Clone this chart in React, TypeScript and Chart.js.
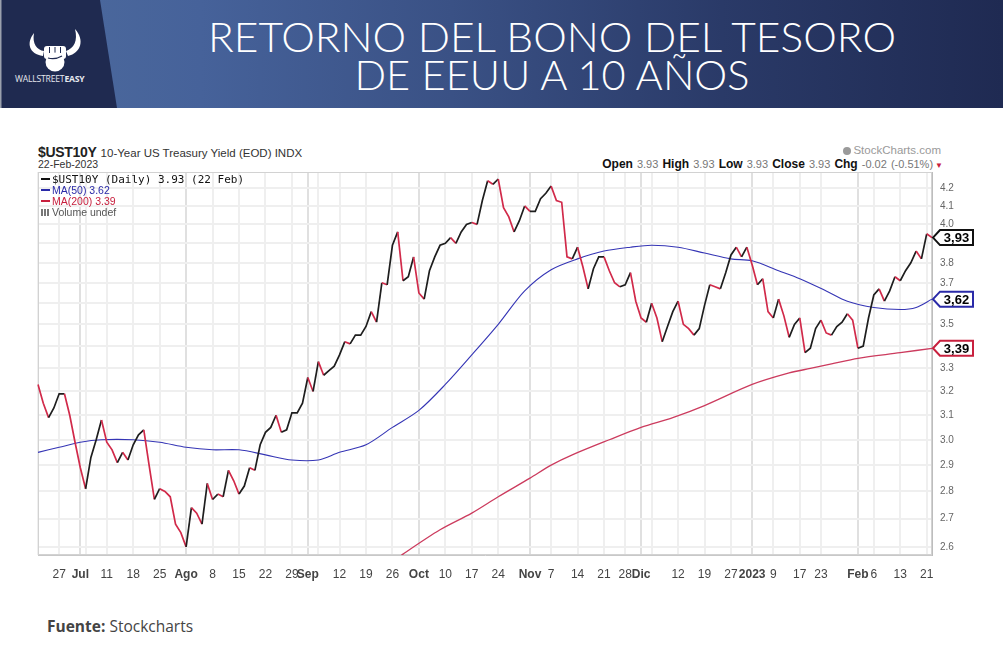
import React, { useEffect, useRef } from "react";
import { Chart, registerables } from "chart.js";

Chart.register(...registerables);

// ---- Trading days (categories), grouped by month ----
const daysJun = [21, 22, 23, 24, 27, 28, 29, 30];
const daysJul = [1, 5, 6, 7, 8, 11, 12, 13, 14, 15, 18, 19, 20, 21, 22, 25, 26, 27, 28, 29];
const daysAug = [1, 2, 3, 4, 5, 8, 9, 10, 11, 12, 15, 16, 17, 18, 19, 22, 23, 24, 25, 26, 29, 30, 31];
const daysSep = [1, 2, 6, 7, 8, 9, 12, 13, 14, 15, 16, 19, 20, 21, 22, 23, 26, 27, 28, 29, 30];
const daysOct = [3, 4, 5, 6, 7, 10, 11, 12, 13, 14, 17, 18, 19, 20, 21, 24, 25, 26, 27, 28, 31];
const daysNov = [1, 2, 3, 4, 7, 8, 9, 10, 11, 14, 15, 16, 17, 18, 21, 22, 23, 25, 28, 29, 30];
const daysDec = [1, 2, 5, 6, 7, 8, 9, 12, 13, 14, 15, 16, 19, 20, 21, 22, 23, 27, 28, 29, 30];
const daysJan = [3, 4, 5, 6, 9, 10, 11, 12, 13, 17, 18, 19, 20, 23, 24, 25, 26, 27, 30, 31];
const daysFeb = [1, 2, 3, 6, 7, 8, 9, 10, 13, 14, 15, 16, 17, 21, 22];

// ---- $UST10Y daily close, by month ----
const yieldJun = [3.23, 3.15, 3.09, 3.13, 3.19, 3.19, 3.1, 2.99];
const yieldJul = [2.89, 2.81, 2.93, 3.0, 3.08, 2.99, 2.96, 2.91, 2.95, 2.92, 2.98, 3.02, 3.04, 2.9, 2.77, 2.81, 2.8, 2.78, 2.68, 2.65];
const yieldAug = [2.6, 2.74, 2.72, 2.68, 2.83, 2.77, 2.79, 2.78, 2.88, 2.84, 2.79, 2.82, 2.89, 2.88, 2.98, 3.03, 3.05, 3.1, 3.03, 3.04, 3.11, 3.11, 3.15];
const yieldSep = [3.26, 3.2, 3.33, 3.27, 3.29, 3.31, 3.36, 3.42, 3.41, 3.45, 3.45, 3.49, 3.56, 3.51, 3.7, 3.69, 3.89, 3.96, 3.71, 3.73, 3.83];
const yieldOct = [3.65, 3.62, 3.76, 3.83, 3.89, 3.9, 3.93, 3.9, 3.96, 4.0, 4.01, 4.0, 4.13, 4.24, 4.22, 4.25, 4.09, 4.04, 3.96, 4.02, 4.1];
const yieldNov = [4.07, 4.07, 4.14, 4.17, 4.21, 4.13, 4.12, 3.83, 3.82, 3.88, 3.78, 3.67, 3.77, 3.83, 3.83, 3.76, 3.7, 3.68, 3.69, 3.75, 3.61];
const yieldDec = [3.53, 3.51, 3.6, 3.53, 3.42, 3.49, 3.56, 3.61, 3.5, 3.48, 3.45, 3.48, 3.59, 3.69, 3.68, 3.67, 3.75, 3.84, 3.88, 3.83, 3.88];
const yieldJan = [3.79, 3.69, 3.72, 3.56, 3.53, 3.62, 3.54, 3.44, 3.5, 3.53, 3.37, 3.39, 3.48, 3.52, 3.46, 3.45, 3.49, 3.51, 3.55, 3.52];
const yieldFeb = [3.39, 3.4, 3.53, 3.64, 3.67, 3.61, 3.66, 3.73, 3.71, 3.76, 3.8, 3.86, 3.82, 3.95, 3.93];

// ---- Moving averages (read at weekly points) ----
const ma50Points: [string, number][] = [
  ["Jun 21", 2.95], ["Jun 27", 2.97], ["Jul 1", 2.99], ["Jul 8", 3.0], ["Jul 18", 3.0], ["Jul 25", 2.99],
  ["Aug 1", 2.97], ["Aug 8", 2.96], ["Aug 15", 2.96], ["Aug 22", 2.94], ["Aug 29", 2.92], ["Sep 6", 2.92],
  ["Sep 12", 2.95], ["Sep 19", 2.98], ["Sep 26", 3.05], ["Oct 3", 3.12], ["Oct 10", 3.23], ["Oct 17", 3.36],
  ["Oct 24", 3.5], ["Oct 31", 3.66], ["Nov 7", 3.765], ["Nov 14", 3.82], ["Nov 21", 3.86], ["Nov 29", 3.88],
  ["Dec 5", 3.89], ["Dec 12", 3.88], ["Dec 19", 3.85], ["Dec 27", 3.82], ["Jan 3", 3.81], ["Jan 10", 3.76],
  ["Jan 17", 3.72], ["Jan 24", 3.66], ["Jan 30", 3.61], ["Feb 6", 3.58], ["Feb 13", 3.57], ["Feb 16", 3.58],
  ["Feb 22", 3.62],
];
const ma200Points: [string, number][] = [
  ["Sep 27", 2.56], ["Sep 28", 2.575], ["Oct 7", 2.66], ["Oct 17", 2.72], ["Oct 24", 2.78], ["Nov 1", 2.85],
  ["Nov 7", 2.9], ["Nov 11", 2.94], ["Nov 22", 3.0], ["Dec 1", 3.05], ["Dec 9", 3.09], ["Dec 19", 3.14],
  ["Jan 3", 3.23], ["Jan 12", 3.28], ["Jan 19", 3.3], ["Jan 25", 3.32], ["Feb 1", 3.345], ["Feb 13", 3.37],
  ["Feb 22", 3.39],
];

// ---- Axis ticks ----
const xTickLabels: [string, string][] = [
  ["Jun 27", "27"], ["Jul 1", "Jul"], ["Jul 11", "11"], ["Jul 18", "18"], ["Jul 25", "25"],
  ["Aug 1", "Ago"], ["Aug 8", "8"], ["Aug 15", "15"], ["Aug 22", "22"], ["Aug 29", "29"],
  ["Sep 1", "Sep"], ["Sep 12", "12"], ["Sep 19", "19"], ["Sep 26", "26"],
  ["Oct 3", "Oct"], ["Oct 10", "10"], ["Oct 17", "17"], ["Oct 24", "24"],
  ["Nov 1", "Nov"], ["Nov 7", "7"], ["Nov 14", "14"], ["Nov 21", "21"], ["Nov 28", "28"],
  ["Dec 1", "Dic"], ["Dec 12", "12"], ["Dec 19", "19"], ["Dec 27", "27"],
  ["Jan 3", "2023"], ["Jan 9", "9"], ["Jan 17", "17"], ["Jan 23", "23"],
  ["Feb 1", "Feb"], ["Feb 6", "6"], ["Feb 13", "13"], ["Feb 21", "21"],
];
const monthStarts = ["Jul 1", "Aug 1", "Sep 1", "Oct 3", "Nov 1", "Dec 1", "Jan 3", "Feb 1"];
const weekStarts = [
  "Jun 21", "Jun 27", "Jul 5", "Jul 11", "Jul 18", "Jul 25", "Aug 8", "Aug 15", "Aug 22", "Aug 29",
  "Sep 6", "Sep 12", "Sep 19", "Sep 26", "Oct 10", "Oct 17", "Oct 24", "Nov 7", "Nov 14", "Nov 21",
  "Nov 28", "Dec 5", "Dec 12", "Dec 19", "Dec 27", "Jan 9", "Jan 17", "Jan 23", "Feb 6", "Feb 13", "Feb 21",
];
const yTicks = [2.6, 2.7, 2.8, 2.9, 3.0, 3.1, 3.2, 3.3, 3.4, 3.5, 3.6, 3.7, 3.8, 3.9, 4.0, 4.1, 4.2];
const Y_MIN = 2.572;
const Y_MAX = 4.29;

const tagDefs = [
  { value: 3.93, text: "3,93", color: "#111111" },
  { value: 3.62, text: "3,62", color: "#2a2aa8" },
  { value: 3.39, text: "3,39", color: "#c8203e" },
];

// ---- Build the category axis & series ----
const monthGroups: [string, number[], number[]][] = [
  ["Jun", daysJun, yieldJun], ["Jul", daysJul, yieldJul], ["Aug", daysAug, yieldAug],
  ["Sep", daysSep, yieldSep], ["Oct", daysOct, yieldOct], ["Nov", daysNov, yieldNov],
  ["Dec", daysDec, yieldDec], ["Jan", daysJan, yieldJan], ["Feb", daysFeb, yieldFeb],
];
const labels: string[] = monthGroups.flatMap(([m, d]) => d.map((x) => `${m} ${x}`));
const yields: number[] = monthGroups.flatMap(([, , v]) => v);
const idxOf = (d: string) => labels.indexOf(d);
const sparse = (pts: [string, number][]) => {
  const arr: (number | null)[] = labels.map(() => null);
  pts.forEach(([d, v]) => { arr[idxOf(d)] = v; });
  return arr;
};
const ma50 = sparse(ma50Points);
const ma200 = sparse(ma200Points);
const tickLabelByIdx = new Map<number, string>(xTickLabels.map(([d, t]) => [idxOf(d), t]));
const monthIdx = new Set<number>(monthStarts.map(idxOf));
const gridIdx = Array.from(new Set<number>([...weekStarts.map(idxOf), ...monthStarts.map(idxOf)])).sort((a, b) => a - b);

const RED = "#d12a4a";
const BLACK = "#1e1e1e";

const framePlugin = {
  id: "frame",
  beforeDatasetsDraw(chart: any) {
    const { ctx, chartArea: a } = chart;
    ctx.save();
    ctx.strokeStyle = "#d2d2d2";
    ctx.lineWidth = 1;
    ctx.strokeRect(a.left + 0.5, a.top + 0.5, a.right - a.left - 1, a.bottom - a.top - 1);
    ctx.restore();
  },
};

const tagPlugin = {
  id: "tags",
  afterDraw(chart: any) {
    const { ctx, chartArea } = chart;
    const y = chart.scales.y;
    tagDefs.forEach(({ value, text, color }) => {
      const yy = y.getPixelForValue(value);
      const x0 = chartArea.right + 1;
      const tip = 7, w = 33, h = 15;
      ctx.save();
      ctx.beginPath();
      ctx.moveTo(x0, yy);
      ctx.lineTo(x0 + tip, yy - h / 2);
      ctx.lineTo(x0 + tip + w, yy - h / 2);
      ctx.lineTo(x0 + tip + w, yy + h / 2);
      ctx.lineTo(x0 + tip, yy + h / 2);
      ctx.closePath();
      ctx.fillStyle = "#ffffff";
      ctx.fill();
      ctx.lineWidth = 2;
      ctx.strokeStyle = color;
      ctx.stroke();
      ctx.fillStyle = "#000";
      ctx.font = 'bold 13px "Liberation Sans", Arial, sans-serif';
      ctx.textAlign = "center";
      ctx.textBaseline = "middle";
      ctx.fillText(text, x0 + tip + w / 2, yy + 1);
      ctx.restore();
    });
  },
};

const FONT = '"Liberation Sans", Arial, sans-serif';

export default function App() {
  const canvasRef = useRef<HTMLCanvasElement>(null);

  useEffect(() => {
    const chart = new Chart(canvasRef.current as HTMLCanvasElement, {
      type: "line",
      data: {
        labels,
        datasets: [
          {
            label: "$UST10Y",
            data: yields,
            borderColor: BLACK,
            borderWidth: 1.7,
            pointRadius: 0,
            tension: 0,
            segment: {
              borderColor: (c: any) => (c.p1.parsed.y < c.p0.parsed.y ? RED : BLACK),
            },
          },
          {
            label: "MA(50)",
            data: ma50,
            borderColor: "#3535b5",
            borderWidth: 1.1,
            pointRadius: 0,
            spanGaps: true,
            tension: 0.3,
          },
          {
            label: "MA(200)",
            data: ma200,
            borderColor: "#cc3b5e",
            borderWidth: 1.3,
            pointRadius: 0,
            spanGaps: true,
            tension: 0.3,
          },
        ],
      },
      options: {
        responsive: false,
        animation: false,
        layout: { padding: { left: 38, top: 32, right: 0, bottom: 0 } },
        plugins: { legend: { display: false }, tooltip: { enabled: false } },
        scales: {
          x: {
            type: "category",
            offset: false,
            afterBuildTicks: (s: any) => {
              s.ticks = gridIdx.map((v) => ({ value: v }));
            },
            afterFit: (s: any) => {
              s.height = 45;
            },
            ticks: {
              autoSkip: false,
              maxRotation: 0,
              minRotation: 0,
              padding: 12,
              color: "#444",
              font: (c: any) => ({
                family: FONT,
                size: 12,
                weight: monthIdx.has(c.tick?.value) ? "bold" : "normal",
              }),
              callback: (v: any) => tickLabelByIdx.get(Number(v)) ?? "",
            },
            grid: {
              color: (c: any) => (monthIdx.has(c.tick?.value) ? "#e0e0e0" : "#efefef"),
              lineWidth: 2,
              drawTicks: false,
            },
            border: { display: true, color: "#c8c8c8" },
          },
          y: {
            type: "logarithmic",
            position: "right",
            min: Y_MIN,
            max: Y_MAX,
            afterBuildTicks: (s: any) => {
              s.ticks = yTicks.map((v) => ({ value: v }));
            },
            afterFit: (s: any) => {
              s.width = 71;
            },
            ticks: {
              padding: 8,
              color: "#666",
              font: { family: FONT, size: 10 },
              callback: (v: any) => Number(v).toFixed(1),
            },
            grid: { color: "#efefef", lineWidth: 2, drawTicks: false },
            border: { display: true, color: "#bdbdbd" },
          },
        },
      },
      plugins: [framePlugin, tagPlugin],
    } as any);
    return () => chart.destroy();
  }, []);

  const dash = (color: string) => (
    <span style={{ display: "inline-block", width: 9, height: 2, background: color, verticalAlign: "middle", marginRight: 2, marginTop: -2 }} />
  );
  const lbl = { color: "#111", fontWeight: "bold" as const, fontSize: 12 };

  return (
    <div style={{ position: "fixed", left: 0, top: 0, width: 1003, height: 665, background: "#fff", overflow: "hidden", fontFamily: FONT }}>
      {/* Header banner */}
      <div style={{ position: "absolute", left: 0, top: 0, width: 1003, height: 108, background: "linear-gradient(90deg, #4d6b9d 0%, #46629a 20%, #3a5185 45%, #2a3a68 72%, #1f2a52 100%)" }} />
      <svg width={1003} height={108} style={{ position: "absolute", left: 0, top: 0 }}>
        <polygon points="0,0 100,0 117,108 0,108" fill="#1f2a50" />
        <rect x={0} y={0} width={1.5} height={108} fill="#9aa0ad" />
        {/* bull horns + fist logo */}
        <path d="M34 33 C26 43, 29 54, 43 56 L44 51 C37 50, 32 44, 34 33 Z" fill="#fff" />
        <path d="M75 29 C85 40, 81 53, 68 56 L66 51 C74 48, 78 41, 75 29 Z" fill="#fff" />
        <rect x={44} y={46} width={22} height={13} rx={3} fill="#fff" />
        <line x1={49.5} y1={47} x2={49.5} y2={53} stroke="#1f2a50" strokeWidth={1} />
        <line x1={55} y1={47} x2={55} y2={53} stroke="#1f2a50" strokeWidth={1} />
        <line x1={60.5} y1={47} x2={60.5} y2={53} stroke="#1f2a50" strokeWidth={1} />
        <circle cx={55} cy={62} r={9.5} fill="#fff" />
        <path d="M48 58 Q55 60 62 56" stroke="#1f2a50" strokeWidth={1.2} fill="none" />
        <text x={15} y={82} fill="#e6e8ef" fontSize={8.6} fontFamily='"Open Sans", "Liberation Sans", sans-serif' letterSpacing={-0.2}>
          WALLSTREET<tspan fontWeight="bold">EASY</tspan>
        </text>
        <text x={552} y={52} fill="#fff" fontSize={42} fontWeight={300} fontFamily='Lato, "Open Sans", sans-serif' textAnchor="middle" textLength={688} lengthAdjust="spacingAndGlyphs">
          RETORNO DEL BONO DEL TESORO
        </text>
        <text x={552} y={90} fill="#fff" fontSize={42} fontWeight={300} fontFamily='Lato, "Open Sans", sans-serif' textAnchor="middle" textLength={395} lengthAdjust="spacingAndGlyphs">
          DE EEUU A 10 AÑOS
        </text>
      </svg>

      {/* StockCharts header lines */}
      <div style={{ position: "absolute", left: 38, top: 143, whiteSpace: "nowrap", color: "#222" }}>
        <span style={{ fontWeight: "bold", fontSize: 14, letterSpacing: -0.3 }}>$UST10Y</span>
        <span style={{ fontSize: 11.5, marginLeft: 4, color: "#333" }}>10-Year US Treasury Yield (EOD) INDX</span>
      </div>
      <div style={{ position: "absolute", left: 38, top: 158, fontSize: 10.5, color: "#333" }}>22-Feb-2023</div>
      <div style={{ position: "absolute", right: 62, top: 144, fontSize: 11.5, color: "#9a9a9a", whiteSpace: "nowrap" }}>
        <span style={{ display: "inline-block", width: 8, height: 8, borderRadius: 4, background: "#9a9a9a", marginRight: 2, verticalAlign: "-1px" }} />
        StockCharts.com
      </div>
      <div style={{ position: "absolute", right: 60, top: 157, fontSize: 11, color: "#777", whiteSpace: "nowrap", wordSpacing: 1 }}>
        <span style={lbl}>Open</span> 3.93 <span style={lbl}>High</span> 3.93 <span style={lbl}>Low</span> 3.93{" "}
        <span style={lbl}>Close</span> 3.93 <span style={lbl}>Chg</span> -0.02 (-0.51%)
        <span style={{ color: "#c8203e", fontSize: 8, marginLeft: 2 }}>▼</span>
      </div>

      {/* Chart */}
      <canvas ref={canvasRef} width={1003} height={460} style={{ position: "absolute", left: 0, top: 140, width: 1003, height: 460 }} />

      {/* In-plot legend */}
      <div style={{ position: "absolute", left: 41, top: 174, lineHeight: "11px", whiteSpace: "nowrap" }}>
        <div style={{ fontFamily: '"DejaVu Sans Mono", monospace', fontSize: 11, color: "#111" }}>
          {dash("#111")}$UST10Y (Daily) 3.93 (22 Feb)
        </div>
        <div style={{ fontSize: 10.5, color: "#2a2aa8" }}>{dash("#2a2aa8")}MA(50) 3.62</div>
        <div style={{ fontSize: 10.5, color: "#c8203e" }}>{dash("#c8203e")}MA(200) 3.39</div>
        <div style={{ fontSize: 10.5, color: "#555" }}>
          <span style={{ display: "inline-block", width: 9, height: 7, marginRight: 2, background: "repeating-linear-gradient(90deg, #777 0 2px, transparent 2px 3px)" }} />
          Volume undef
        </div>
      </div>

      {/* Footer */}
      <div style={{ position: "absolute", left: 47, top: 615, fontSize: 15.5, color: "#444", fontFamily: '"Open Sans", Lato, sans-serif' }}>
        <b>Fuente:</b> Stockcharts
      </div>
    </div>
  );
}
